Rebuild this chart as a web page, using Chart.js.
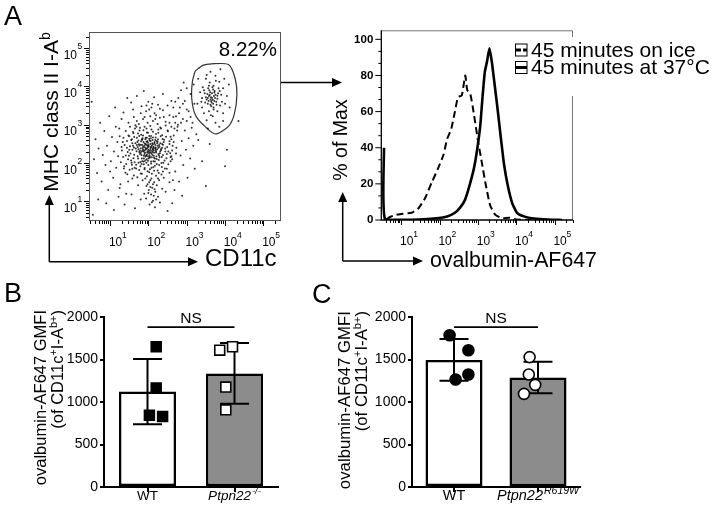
<!DOCTYPE html>
<html>
<head>
<meta charset="utf-8">
<script src="https://cdn.jsdelivr.net/npm/chart.js@4.4.1/dist/chart.umd.min.js"></script>
<style>
  html, body { margin: 0; padding: 0; background: #fff; }
  #page { position: relative; width: 719px; height: 512px; overflow: hidden; }
  #page canvas, #page svg { position: absolute; }
</style>
</head>
<body>
<div id="page">
  <canvas id="dotPlot" width="300" height="290" style="left:0;top:0"></canvas>
  <canvas id="histPlot" width="389" height="290" style="left:330px;top:0"></canvas>
  <canvas id="barsB" width="300" height="222" style="left:0;top:290px"></canvas>
  <canvas id="barsC" width="300" height="222" style="left:300px;top:290px"></canvas>
  <svg width="719" height="512" style="left:0;top:0;pointer-events:none" font-family="Liberation Sans, Arial, sans-serif" fill="#000">
    <text x="4" y="25" font-size="27">A</text>
    <text x="4" y="302" font-size="27">B</text>
    <text x="312" y="303" font-size="27">C</text>

    <text transform="translate(58 112) rotate(-90)" text-anchor="middle" font-size="21">MHC class II I-A<tspan dy="-8" font-size="14">b</tspan></text>
    <text x="205" y="266" font-size="24">CD11c</text>
    <text id="gateLabel" x="277" y="56" text-anchor="end" font-size="20.5"></text>
    <text transform="translate(346.5 140) rotate(-90)" text-anchor="middle" font-size="19.5">% of Max</text>
    <text x="430" y="267" font-size="21.3">ovalbumin-AF647</text>

    <g stroke="#000" stroke-width="1.5" fill="none">
      <path d="M49.3 261.7 V204 M49.3 261.7 H189 M281 82.5 H333 M342.7 261 V202 M342.7 261 H414"/>
    </g>
    <g fill="#000">
      <polygon points="49.3,195 44.8,205 53.8,205"/>
      <polygon points="198,261.7 188,257.2 188,266.2"/>
      <polygon points="342,82.5 332,78 332,87"/>
      <polygon points="342.7,192 338.2,202 347.2,202"/>
      <polygon points="423,261 413,256.5 413,265.5"/>
    </g>

    <text transform="translate(46 310) rotate(-90)" text-anchor="end" font-size="16.5">ovalbumin-AF647 GMFI</text>
    <text transform="translate(63 310) rotate(-90)" text-anchor="end" font-size="16.5">(of CD11c<tspan dy="-6" font-size="11">+</tspan><tspan dy="6">I-A</tspan><tspan dy="-6" font-size="11">b+</tspan><tspan dy="6">)</tspan></text>
    <text transform="translate(349.5 311) rotate(-90)" text-anchor="end" font-size="16.8">ovalbumin-AF647 GMFI</text>
    <text transform="translate(367 311) rotate(-90)" text-anchor="end" font-size="16.8">(of CD11c<tspan dy="-6" font-size="11">+</tspan><tspan dy="6">I-A</tspan><tspan dy="-6" font-size="11">b+</tspan><tspan dy="6">)</tspan></text>
  </svg>
</div>
<script>
// ---------- data ----------
const decades = [1, 2, 3, 4, 5];

// A, left: one dot per cell, [log10 CD11c, log10 MHC class II I-Ab]
const cellsLog10 = [
  [1.52,2.95],[1.78,2.92],[2.05,2.97],[2.31,2.93],[1.95,2.9],[2.45,2.98],[1.66,2.99],
  [1.41,2.84],[1.6,2.81],[1.87,2.86],[2.12,2.82],[2.26,2.88],[2.51,2.83],[1.99,2.79],[1.73,2.77],
  [1.48,2.72],[1.63,2.68],[1.81,2.74],[1.93,2.66],[2.07,2.71],[2.19,2.67],[2.36,2.73],[2.58,2.69],[1.35,2.66],[2.02,2.63],
  [1.44,2.58],[1.57,2.62],[1.71,2.55],[1.84,2.61],[1.97,2.57],[2.11,2.6],[2.24,2.56],[2.41,2.61],[2.55,2.57],[1.66,2.52],[2.16,2.52],[1.9,2.51],
  [1.38,2.47],[1.52,2.44],[1.62,2.41],[1.77,2.46],[1.86,2.42],[1.98,2.45],[2.06,2.41],[2.18,2.47],[2.29,2.43],[2.38,2.48],[2.49,2.42],[2.63,2.45],[1.94,2.38],[2.12,2.36],
  [1.31,2.33],[1.46,2.29],[1.58,2.35],[1.69,2.31],[1.8,2.27],[1.89,2.33],[2.01,2.29],[2.09,2.32],[2.2,2.28],[2.33,2.34],[2.44,2.3],[2.57,2.26],[1.74,2.36],[2.26,2.24],[1.96,2.22],
  [1.34,2.16],[1.49,2.19],[1.61,2.13],[1.72,2.18],[1.83,2.12],[1.92,2.17],[2.03,2.14],[2.14,2.19],[2.22,2.11],[2.35,2.16],[2.47,2.13],[2.6,2.18],[1.55,2.07],[1.99,2.06],
  [1.28,2.02],[1.42,1.98],[1.56,2.01],[1.68,1.96],[1.79,2.03],[1.88,1.97],[2.07,1.99],[2.17,2.04],[2.28,1.95],[2.39,2.01],[2.52,1.97],[1.95,2.01],
  [1.36,1.86],[1.51,1.83],[1.64,1.88],[1.76,1.82],[1.9,1.87],[2.04,1.84],[2.13,1.89],[2.24,1.81],[2.43,1.86],[1.98,1.79],
  [1.45,1.71],[1.62,1.68],[1.8,1.73],[1.96,1.66],[2.09,1.72],[2.2,1.67],[2.34,1.7],[1.71,1.63],
  [1.85,2.39],[1.91,2.28],[2.0,2.35],[2.05,2.5],[2.13,2.43],[1.82,2.21],[2.18,2.38],[1.94,2.47],[2.08,2.26],[1.87,2.55],[2.23,2.52],[1.99,2.42],[2.11,2.29],[1.78,2.32],[2.03,2.2],
  [1.53,2.25],[1.58,2.52],[1.61,2.78],[1.64,2.02],[1.67,2.38],[1.7,2.66],[1.73,2.12],[1.75,2.49],[1.77,2.85],[1.79,1.92],
  [1.81,2.57],[1.83,2.31],[1.84,2.05],[1.86,2.72],[1.88,2.19],[1.89,2.45],[1.9,1.84],[1.92,2.62],[1.93,2.35],[1.95,2.1],
  [1.96,2.8],[1.97,2.27],[1.99,2.53],[2.0,1.95],[2.01,2.44],[2.02,2.71],[2.04,2.16],[2.05,2.37],[2.06,2.58],[2.08,1.88],
  [2.09,2.46],[2.1,2.22],[2.12,2.67],[2.13,2.05],[2.14,2.33],[2.16,2.55],[2.17,1.93],[2.19,2.41],[2.2,2.76],[2.21,2.18],
  [2.23,2.36],[2.25,2.62],[2.27,2.08],[2.28,2.47],[2.3,2.26],[2.32,2.7],[2.34,2.0],[2.36,2.4],[2.38,2.21],[2.4,2.55],
  [2.42,2.07],[2.44,2.38],[2.46,2.69],[2.48,2.24],[1.55,2.6],[1.57,1.96],[1.6,2.45],[1.63,2.22],[1.65,2.9],[1.68,1.86],
  [1.72,2.42],[1.74,2.01],[1.76,2.71],[1.78,2.24],[1.8,2.48],[1.82,1.98],[1.85,2.65],[1.87,2.3],[1.88,2.04],[1.91,2.41],
  [1.94,2.19],[1.96,2.66],[1.98,2.31],[2.0,2.12],[2.03,2.59],[2.05,2.28],[2.07,2.04],[2.1,2.52],[2.11,2.38],[2.15,2.14],
  [2.18,2.6],[2.2,2.31],[2.22,1.98],[2.24,2.45],[2.26,2.79],[2.29,2.15],[2.31,2.52],[2.33,2.37],[2.35,1.9],[2.37,2.63],
  [1.9,2.95],[2.08,2.88],[1.83,1.72],[2.02,1.76],[2.15,1.8],[2.27,1.74],[1.69,2.95],[2.33,2.9],[1.5,2.35],[2.52,2.3],
  [2.55,2.5],[2.58,2.15],[1.47,2.1],[1.44,2.4],[1.5,2.7],[2.6,2.62],[1.41,2.2],[2.48,1.85],[1.58,1.85],[2.38,1.78],
  [1.86,2.34],[1.93,2.5],[2.02,2.25],[2.07,2.43],[2.15,2.27],[1.97,2.39],[1.84,2.47],[2.12,2.49],[2.04,2.32],[1.9,2.24],
  [2.19,2.34],[1.8,2.38],[2.09,2.15],[1.95,2.56],[2.26,2.4],[1.76,2.29],[2.0,2.48],[2.14,2.4],[1.88,2.12],[2.22,2.58],
  [1.7,2.47],[2.31,2.31],[1.99,2.18],[1.83,2.62],[2.17,2.12],[2.06,2.65],[1.92,2.07],[2.28,2.2],[1.74,2.59],[2.36,2.5],
  [2.05,1.55],[2.15,1.5],[1.98,1.45],[2.22,1.42],[2.1,1.36],[2.01,1.3],[2.18,1.25],[2.07,1.18],[2.25,1.12],[1.94,1.08],
  [2.12,1.02],[2.3,0.97],[2.03,0.92],[2.17,0.85],[1.89,1.2],[2.36,1.33],[2.28,1.55],[1.92,1.6],
  [2.08,1.6],[2.12,1.45],[2.05,1.38],[2.16,1.32],[2.0,1.22],[2.14,1.15],[2.2,1.05],[2.02,1.5],[1.95,1.4],[2.25,1.6],[1.85,1.55],[2.09,0.98],
  [1.98,3.05],[2.12,3.1],[2.24,3.02],[1.86,3.15],[2.05,3.22],[2.3,3.18],[2.16,3.3],[1.94,3.35],[2.38,3.38],[2.08,3.45],
  [2.25,3.52],[1.82,3.48],[2.45,3.08],[2.0,3.6],
  [1.9,3.2],[2.02,3.4],[2.2,3.25],[2.1,3.55],[2.3,3.42],[2.18,3.15],[1.95,3.5],[2.4,3.2],[2.55,3.05],[2.65,3.2],
  [2.8,3.3],[2.75,2.85],[2.85,3.05],[2.6,2.95],[3.0,3.4],[2.9,3.55],[3.1,3.2],[2.7,3.6],[1.8,3.3],[1.7,3.1],
  [0.58,2.1],[0.62,2.62],[0.66,1.74],[0.7,2.38],[0.74,3.05],[0.78,1.52],[0.81,2.21],[0.85,2.84],[0.88,1.95],[0.92,2.45],
  [0.95,1.3],[0.98,3.22],[1.02,2.05],[1.05,2.68],[1.08,1.62],[1.1,2.3],[1.13,3.45],[1.16,1.88],[1.19,2.55],[1.22,1.12],
  [1.24,2.9],[1.27,1.45],[1.3,3.15],[1.21,2.18],[0.9,0.95],[0.69,1.05],[1.0,1.78],[1.15,2.95],
  [2.62,2.1],[2.66,2.72],[2.7,1.78],[2.73,2.4],[2.77,3.0],[2.8,1.52],[2.84,2.2],[2.87,2.58],[2.91,1.95],[2.95,2.85],
  [2.98,2.35],[3.02,1.62],[3.05,2.65],[3.09,2.12],[3.13,2.92],[3.17,2.45],[3.21,1.85],[3.25,2.75],[2.68,1.3],[2.88,1.15],
  [2.76,2.95],[3.0,3.1],[2.64,1.55],
  [1.35,3.32],[1.48,3.05],[1.55,3.58],[1.62,3.2],[1.7,3.75],[1.75,3.02],[2.55,3.25],[2.6,3.62],[2.38,3.8],[2.15,3.72],
  [1.88,3.88],[1.45,3.7],[2.5,3.5],[1.6,3.4],
  [1.1,0.78],[1.25,1.35],[1.38,0.92],[1.47,1.52],[1.56,1.18],[1.65,0.82],[1.73,1.42],[1.8,1.05],[2.45,1.25],[2.55,1.5],
  [2.62,0.95],[2.5,0.75],[1.58,1.6],[1.42,1.2],[2.4,1.62],
  [1.33,2.55],[1.4,1.75],[2.62,2.33],[2.68,2.9],[2.55,1.75],[1.3,2.42],[2.66,2.55],[2.58,2.05],[1.37,1.92],[2.72,2.25],
  [1.25,2.7],[2.5,2.85],
  [2.72,3.22],[2.82,3.45],[2.9,3.15],[2.95,3.62],[3.05,3.35],[3.1,3.8],[2.78,3.7],[3.15,3.05],[2.85,3.9],[2.65,3.45],
  [3.0,3.95],[3.2,3.55],[2.7,3.05],[3.18,4.05],[2.92,4.1],
  [3.66,3.7],[3.58,3.75],[3.72,3.62],[3.61,3.85],[3.75,3.78],[3.52,3.66],[3.69,3.92],[3.8,3.68],[3.55,3.55],[3.64,3.48],
  [3.78,3.52],[3.47,3.82],[3.7,4.02],[3.86,3.88],[3.6,4.1],[3.42,3.98],[3.85,4.12],[3.5,4.2],[3.75,4.28],[3.95,3.95],
  [3.38,3.6],[3.92,3.6],[3.58,3.35],[3.8,3.35],[3.45,3.3],[3.68,3.22],[3.95,3.3],[3.35,3.85],[4.05,3.75],[3.62,4.38],
  [3.88,4.45],[3.3,4.2],[4.1,4.05],[3.52,3.12],[3.75,3.05],[3.95,3.1],[3.4,3.45],[4.12,3.45],[3.28,3.55],[3.85,2.95],
  [3.7,3.4],[3.56,3.95],[3.65,3.58],[3.82,3.82],[3.5,3.72],[3.73,3.88],[3.62,3.66],
  [3.6,3.78],[3.68,3.65],[3.63,3.72],[3.71,3.75],[3.57,3.62],[3.66,3.82],[3.74,3.7],[3.59,3.9],[3.77,3.6],[3.54,3.8],
  [3.69,3.55],[3.62,3.52],[3.8,3.76],[3.67,3.98],[3.55,3.7],[3.72,3.84],[3.64,3.62],[3.48,3.58],[3.83,3.95],[3.58,4.02],
  [3.76,4.15],[3.9,3.78],[3.45,3.9],[3.7,3.45],[3.87,3.5],[3.52,4.3],[3.98,4.2],[3.4,3.7],[3.63,3.25],[4.0,3.55],
  [4.0,1.92],[4.05,2.35],[3.6,2.5],[3.4,2.05],[3.5,1.4],[0.55,0.65],[3.3,2.6],[4.35,3.1],[0.52,3.6],[3.55,2.9]
];
const gateLog10 = [
  [3.22,4.40],[3.42,4.55],[3.65,4.59],[4.09,4.57],[4.26,4.22],[4.31,3.79],[4.24,3.27],
  [4.09,2.96],[3.74,2.76],[3.43,3.00],[3.22,3.27],[3.13,3.70],[3.15,4.14],[3.22,4.40]
];
const gatePercent = '8.22%';

// A, right: [log10 ovalbumin-AF647, % of max]
const histLegend = ['45 minutes on ice', '45 minutes at 37°C'];
const onIce = [
  [0.62,0.5],[0.72,1.8],[0.85,2.8],[1.05,3.5],[1.27,4],[1.45,6.5],[1.62,12],[1.8,21],[1.95,28],
  [2.1,36],[2.2,45],[2.3,50],[2.4,60],[2.48,68],[2.58,69],[2.67,80],[2.72,72],[2.8,70],[2.9,58],
  [3.0,44],[3.1,32],[3.2,20],[3.32,8],[3.45,3],[3.62,1],[3.82,1.3],[4.0,0.3],[4.4,0]
];
const at37 = [
  [0.55,40],[0.58,0.3],[1.45,0.3],[1.93,1],[2.2,2],[2.4,4],[2.54,7],[2.66,11],[2.78,19],[2.9,29],
  [2.98,39],[3.06,52],[3.12,68],[3.18,82],[3.24,88],[3.3,95],[3.36,88],[3.43,76],[3.51,62],
  [3.59,47],[3.68,31],[3.78,19],[3.9,9],[4.02,4],[4.2,2],[4.4,1],[4.7,0.4],[5.2,0]
];
const pctTicks = [0, 20, 40, 60, 80, 100];

// B and C: ovalbumin-AF647 GMFI per mouse
const groupNames = ['WT', 'Ptpn22'];
const genotypeSupB = ['', '-/-'];
const genotypeSupC = ['', 'R619W'];
const wtB = [1650, 1164, 845, 830];
const koB = [1610, 1650, 1176, 908];
const wtC = [1785, 1608, 1324, 1265];
const r619wC = [1528, 1324, 1202, 1096];
const gmfiMax = 2000;
const gmfiStep = 500;
const nsLevel = 1880;

// ---------- drawing ----------
const FONT = '"Liberation Sans", Arial, Helvetica, sans-serif';
Chart.defaults.font.family = FONT;
Chart.defaults.color = '#000';
Chart.defaults.animation = false;
Chart.defaults.events = [];
Chart.defaults.plugins.legend.display = false;
Chart.defaults.plugins.tooltip.enabled = false;

document.getElementById('gateLabel').textContent = gatePercent;

const toXY = arr => arr.map(p => ({ x: p[0], y: p[1] }));
const mean = a => a.reduce((s, v) => s + v, 0) / a.length;
const sd = a => { const m = mean(a); return Math.sqrt(a.reduce((s, v) => s + (v - m) ** 2, 0) / (a.length - 1)); };

function logTicks(scale) {
  const out = [];
  for (let d = 0; d <= 5; d++) {
    for (let m = 1; m <= 9; m++) {
      const v = d + Math.log10(m);
      if (v >= scale.min && v <= scale.max) out.push({ v, major: m === 1 });
    }
  }
  return out;
}

// decade labels under the x axis: "10" with a raised exponent
function decadeLabelsX(ctx, xs, bottom) {
  decades.forEach(d => {
    const px = xs.getPixelForValue(d);
    ctx.font = '12px ' + FONT; ctx.textAlign = 'center';
    ctx.fillText('10', px + 5.5, bottom + 25);
    ctx.font = '8.5px ' + FONT; ctx.textAlign = 'left';
    ctx.fillText(String(d), px + 12, bottom + 17);
  });
}

// A left: dot plot
new Chart(document.getElementById('dotPlot'), {
  type: 'scatter',
  data: {
    datasets: [
      { data: toXY(cellsLog10), pointRadius: 1, pointBorderWidth: 0, pointBackgroundColor: 'rgba(0,0,0,0.8)' },
      { data: toXY(gateLog10), showLine: true, tension: 0.25, pointRadius: 0, borderColor: '#333', borderWidth: 1.2, fill: false }
    ]
  },
  options: {
    responsive: false,
    layout: { padding: { left: 89, top: 32, right: 19, bottom: 69 } },
    scales: {
      x: { type: 'linear', min: 0.45, max: 5.46, display: false },
      y: { type: 'linear', min: 0.49, max: 5.42, display: false }
    }
  },
  plugins: [{
    id: 'flowFrame',
    afterDraw(chart) {
      const { ctx, chartArea: a, scales: { x, y } } = chart;
      ctx.save();
      ctx.strokeStyle = '#555'; ctx.lineWidth = 1;
      ctx.strokeRect(a.left + 0.5, a.top + 0.5, a.width - 1, a.height - 1);
      ctx.strokeStyle = '#000';
      ctx.beginPath();
      logTicks(x).forEach(t => {
        const p = Math.round(x.getPixelForValue(t.v)) + 0.5;
        ctx.moveTo(p, a.bottom); ctx.lineTo(p, a.bottom + (t.major ? 5 : 3));
      });
      logTicks(y).forEach(t => {
        const p = Math.round(y.getPixelForValue(t.v)) + 0.5;
        ctx.moveTo(a.left, p); ctx.lineTo(a.left - (t.major ? 5 : 3), p);
      });
      ctx.stroke();
      ctx.fillStyle = '#000';
      decadeLabelsX(ctx, x, a.bottom);
      decades.forEach(d => {
        const py = y.getPixelForValue(d);
        ctx.font = '12px ' + FONT; ctx.textAlign = 'right';
        ctx.fillText('10', a.left - 12, py + 10.5);
        ctx.font = '8.5px ' + FONT; ctx.textAlign = 'left';
        ctx.fillText(String(d), a.left - 11.5, py + 1);
      });
      ctx.restore();
    }
  }]
});

// A right: histograms
new Chart(document.getElementById('histPlot'), {
  type: 'line',
  data: {
    datasets: [
      { label: histLegend[0], data: toXY(onIce), borderColor: '#000', borderWidth: 2, borderDash: [7, 4], pointRadius: 0, tension: 0.15 },
      { label: histLegend[1], data: toXY(at37), borderColor: '#000', borderWidth: 2.6, pointRadius: 0, tension: 0.15 }
    ]
  },
  options: {
    responsive: false,
    layout: { padding: { left: 51.3, top: 30.3, right: 146, bottom: 70 } },
    scales: {
      x: { type: 'linear', min: 0.48, max: 5.48, display: false },
      y: { type: 'linear', min: 0, max: 105, display: false }
    }
  },
  plugins: [{
    id: 'histAxes',
    afterDraw(chart) {
      const { ctx, chartArea: a, scales: { x, y } } = chart;
      ctx.save();
      ctx.strokeStyle = '#777'; ctx.lineWidth = 1;
      ctx.beginPath();
      ctx.moveTo(a.left, a.top + 0.5); ctx.lineTo(a.right - 0.5, a.top + 0.5); ctx.lineTo(a.right - 0.5, a.bottom);
      ctx.stroke();
      ctx.strokeStyle = '#000'; ctx.lineWidth = 1.3;
      ctx.beginPath();
      ctx.moveTo(a.left, a.top); ctx.lineTo(a.left, a.bottom); ctx.lineTo(a.right, a.bottom);
      ctx.stroke();
      ctx.lineWidth = 1;
      ctx.beginPath();
      logTicks(x).forEach(t => {
        const p = Math.round(x.getPixelForValue(t.v)) + 0.5;
        ctx.moveTo(p, a.bottom); ctx.lineTo(p, a.bottom + (t.major ? 5 : 3));
      });
      pctTicks.forEach((v, i) => {
        const p = y.getPixelForValue(v);
        ctx.moveTo(a.left, p); ctx.lineTo(a.left - 6, p);
        if (i < pctTicks.length - 1) {
          const step = (pctTicks[i + 1] - v) / 3;
          [1, 2].forEach(k => {
            const q = y.getPixelForValue(v + k * step);
            ctx.moveTo(a.left, q); ctx.lineTo(a.left - 3, q);
          });
        }
      });
      ctx.stroke();
      ctx.fillStyle = '#000';
      decadeLabelsX(ctx, x, a.bottom);
      ctx.font = 'bold 11.5px ' + FONT; ctx.textAlign = 'right'; ctx.textBaseline = 'middle';
      pctTicks.forEach(v => ctx.fillText(String(v), a.left - 8, y.getPixelForValue(v)));
      ctx.textBaseline = 'alphabetic';

      // legend, boxed over the frame's top-right corner
      const lx = a.right - 58;
      ctx.fillStyle = '#fff';
      ctx.fillRect(lx - 4, 37, 400, 59);
      const rows = [43.5, 61];
      chart.data.datasets.forEach((ds, i) => {
        const top = rows[i];
        ctx.strokeStyle = '#000'; ctx.lineWidth = 1;
        ctx.strokeRect(lx + 0.5, top + 0.5, 11.5, 12);
        ctx.lineWidth = 3;
        ctx.setLineDash(ds.borderDash ? [6, 2] : []);
        ctx.beginPath(); ctx.moveTo(lx, top + 6.5); ctx.lineTo(lx + 12, top + 6.5); ctx.stroke();
        ctx.setLineDash([]);
        ctx.fillStyle = '#000';
        ctx.font = '21px ' + FONT; ctx.textAlign = 'left';
        ctx.fillText(ds.label, lx + 16, top + 13);
      });
      ctx.restore();
    }
  }]
});

// B and C: bars with mean +/- SD, one symbol per mouse
function gmfiPanel(canvasId, values, supers, look) {
  const means = values.map(mean);
  const sds = values.map(sd);
  const unit = look.plotWidth / 2;
  const pts = [];
  const fills = [];
  values.forEach((vals, g) => vals.forEach((v, i) => {
    pts.push({ x: g + look.nudge[g][i] / unit, y: v });
    fills.push(g === 0 ? '#000' : '#fff');
  }));

  new Chart(document.getElementById(canvasId), {
    type: 'bar',
    data: {
      labels: groupNames,
      datasets: [
        { type: 'scatter', xAxisID: 'xs', order: 0, data: pts, pointStyle: look.symbol, pointRadius: look.radius,
          pointBackgroundColor: fills, pointBorderColor: '#000', pointBorderWidth: 1.6 },
        { type: 'bar', order: 1, data: means, backgroundColor: ['#fff', '#8c8c8c'], borderColor: '#000',
          borderWidth: 2.5, borderSkipped: false, grouped: false,
          categoryPercentage: 1, barPercentage: look.barPx / unit }
      ]
    },
    options: {
      responsive: false,
      layout: { padding: { left: 0, top: 27, right: look.padRight, bottom: 0 } },
      scales: {
        x: {
          offset: true,
          afterFit: s => { s.height = 25; },
          border: { display: true, color: '#000', width: 2 },
          grid: { display: true, drawOnChartArea: false, offset: false, tickLength: 5, color: '#000', lineWidth: 2 },
          ticks: { display: false }
        },
        xs: { type: 'linear', min: -0.5, max: 1.5, display: false },
        y: {
          min: 0, max: gmfiMax,
          afterFit: s => { s.width = look.yWidth; },
          border: { display: true, color: '#000', width: 2 },
          grid: { display: true, drawOnChartArea: false, tickLength: 4, color: '#000', lineWidth: 2 },
          ticks: { stepSize: gmfiStep, padding: 2, color: '#000', font: { size: 14 }, callback: v => String(v) }
        }
      }
    },
    plugins: [{
      id: 'sdBars',
      afterDatasetDraw(chart, args) {
        if (args.index !== 1) return;
        const { ctx } = chart;
        const xc = chart.scales.x, ys = chart.scales.y;
        ctx.save();
        ctx.strokeStyle = '#000'; ctx.lineWidth = 2;
        means.forEach((m, g) => {
          const px = xc.getPixelForValue(g);
          const t = ys.getPixelForValue(m + sds[g]), b = ys.getPixelForValue(m - sds[g]);
          ctx.beginPath();
          ctx.moveTo(px, t); ctx.lineTo(px, b);
          ctx.moveTo(px - 14.5, t); ctx.lineTo(px + 14.5, t);
          ctx.moveTo(px - 14.5, b); ctx.lineTo(px + 14.5, b);
          ctx.stroke();
        });
        ctx.restore();
      },
      afterDraw(chart) {
        const { ctx, chartArea: a } = chart;
        const xc = chart.scales.x, ys = chart.scales.y;
        ctx.save();
        ctx.fillStyle = '#000'; ctx.strokeStyle = '#000';
        // NS bracket
        const ny = ys.getPixelForValue(nsLevel);
        const x0 = xc.getPixelForValue(0), x1 = xc.getPixelForValue(1);
        ctx.lineWidth = 1.8;
        ctx.beginPath(); ctx.moveTo(x0, ny); ctx.lineTo(x1, ny); ctx.stroke();
        ctx.font = look.nsSize + 'px ' + FONT; ctx.textAlign = 'center';
        ctx.fillText('NS', (x0 + x1) / 2, ny - 4);
        // category labels with superscript genotype
        ctx.textAlign = 'left';
        groupNames.forEach((name, i) => {
          const px = xc.getPixelForValue(i);
          const it = i === 1 ? 'italic ' : '';
          ctx.font = it + look.labelSize + 'px ' + FONT;
          const w1 = ctx.measureText(name).width;
          ctx.font = it + look.supSize + 'px ' + FONT;
          const w2 = supers[i] ? ctx.measureText(supers[i]).width + 1 : 0;
          const sx = px - (w1 + w2) / 2;
          const base = a.bottom + 13;
          ctx.font = it + look.labelSize + 'px ' + FONT;
          ctx.fillText(name, sx, base);
          if (supers[i]) {
            ctx.font = it + look.supSize + 'px ' + FONT;
            ctx.fillText(supers[i], sx + w1 + 1, base - 6);
          }
        });
        ctx.restore();
      }
    }]
  });
}

gmfiPanel('barsB', [wtB, koB], genotypeSupB, {
  plotWidth: 174, yWidth: 104, padRight: 22, symbol: 'rect', radius: 7, barPx: 57,
  nudge: [[0, 0, -8.5, 8], [-7.6, 8.4, 0, 0]],
  nsSize: 15.5, labelSize: 13.5, supSize: 9.5
});

gmfiPanel('barsC', [wtC, r619wC], genotypeSupC, {
  plotWidth: 168, yWidth: 112, padRight: 20, symbol: 'circle', radius: 5.5, barPx: 57,
  nudge: [[-16, 7.5, 7.5, -8.5], [0, -1, 7, -7]],
  nsSize: 15.5, labelSize: 14.5, supSize: 10.5
});
</script>
</body>
</html>
